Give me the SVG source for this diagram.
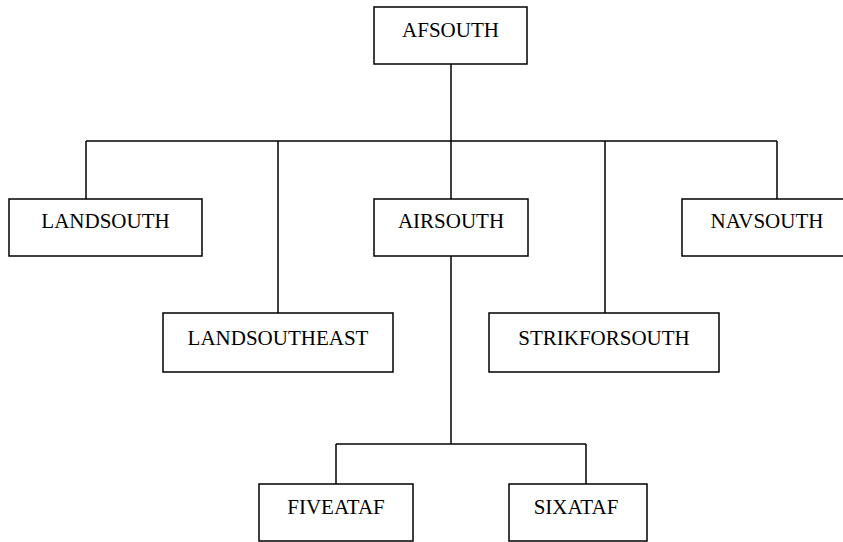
<svg xmlns="http://www.w3.org/2000/svg" width="843" height="542" viewBox="0 0 843 542">
<style>
.box{fill:#fff;stroke:#000;stroke-width:1.5}
.lbl{font-family:"Liberation Serif","Times New Roman",serif;font-size:21px;fill:#000;text-anchor:middle}
.conn line{stroke:#000;stroke-width:1.5}
</style>
<rect width="843" height="542" fill="#fff"/>
<g id="connectors" class="conn">
<line x1="451" y1="64" x2="451" y2="141"/>
<line x1="86" y1="141" x2="777" y2="141"/>
<line x1="86" y1="141" x2="86" y2="199"/>
<line x1="278" y1="141" x2="278" y2="313"/>
<line x1="451" y1="141" x2="451" y2="199"/>
<line x1="605" y1="141" x2="605" y2="313"/>
<line x1="777" y1="141" x2="777" y2="199"/>
<line x1="451" y1="256" x2="451" y2="444"/>
<line x1="336" y1="444" x2="586" y2="444"/>
<line x1="336" y1="444" x2="336" y2="484"/>
<line x1="586" y1="444" x2="586" y2="484"/>
</g>
<g id="afsouth"><rect class="box" x="374" y="7" width="153" height="57"/><text class="lbl" x="450.5" y="37">AFSOUTH</text></g>
<g id="landsouth"><rect class="box" x="9" y="199" width="193" height="57"/><text class="lbl" x="105.5" y="228">LANDSOUTH</text></g>
<g id="airsouth"><rect class="box" x="374" y="199" width="154" height="57"/><text class="lbl" x="451" y="228">AIRSOUTH</text></g>
<g id="navsouth"><rect class="box" x="682" y="199" width="170" height="57"/><text class="lbl" x="767" y="228">NAVSOUTH</text></g>
<g id="landsoutheast"><rect class="box" x="163" y="313" width="230" height="59"/><text class="lbl" x="278" y="345">LANDSOUTHEAST</text></g>
<g id="strikforsouth"><rect class="box" x="489" y="313" width="230" height="59"/><text class="lbl" x="604" y="345">STRIKFORSOUTH</text></g>
<g id="fiveataf"><rect class="box" x="259" y="484" width="154" height="57"/><text class="lbl" x="336" y="514">FIVEATAF</text></g>
<g id="sixataf"><rect class="box" x="509" y="484" width="138" height="57"/><text class="lbl" x="576" y="514">SIXATAF</text></g>
</svg>
